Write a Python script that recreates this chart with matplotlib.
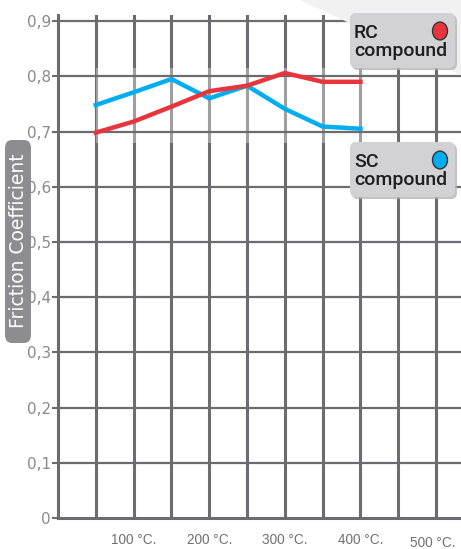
import matplotlib
matplotlib.use("Agg")
import matplotlib.pyplot as plt
from matplotlib.patches import FancyBboxPatch, Polygon, Rectangle, Circle
import matplotlib.transforms as mtransforms

# ---- data ----
temps = [50, 100, 150, 200, 250, 300, 350, 400]
rc_values = [0.698, 0.718, 0.745, 0.773, 0.783, 0.806, 0.790, 0.790]
sc_values = [0.748, 0.771, 0.795, 0.760, 0.783, 0.741, 0.709, 0.705]
x_tick_pos = [100, 200, 300, 400, 500]
x_tick_labels = ["100 °C.", "200 °C.", "300 °C.", "400 °C.", "500 °C."]
y_ticks = [0, 0.1, 0.2, 0.3, 0.4, 0.5, 0.6, 0.7, 0.8, 0.9]
y_tick_labels = ["0", "0,1", "0,2", "0,3", "0,4", "0,5", "0,6", "0,7", "0,8", "0,9"]
series_names = ["RC\ncompound", "SC\ncompound"]

RED = "#e8353d"
BLUE = "#00aeef"
GRID = "#6c6c70"

W, H = 461, 549
fig = plt.figure(figsize=(W / 100, H / 100), dpi=100)
fig.patch.set_facecolor("white")

def fx(px):
    return px / W

def fy(py):
    return 1 - py / H

# faint background wedge top right
fig.patches.append(Polygon([(fx(300), fy(0)), (fx(461), fy(0)), (fx(461), fy(75))],
                           closed=True, transform=fig.transFigure,
                           facecolor="#f1f1f2", edgecolor="none", zorder=0))

ax_left, ax_top, ax_bottom = 58, 15, 518
ax = fig.add_axes([fx(ax_left), fy(ax_bottom), 1 - fx(ax_left), (ax_bottom - ax_top) / H])
ax.set_facecolor("none")
ax.set_xlim(0, 533)
ax.set_ylim(0, 0.911)

for sp in ["top", "right"]:
    ax.spines[sp].set_visible(False)
ax.spines["left"].set_color(GRID)
ax.spines["left"].set_linewidth(2.2)
ax.spines["bottom"].set_color(GRID)
ax.spines["bottom"].set_linewidth(2.2)

# grid
for xv in range(50, 501, 50):
    ax.axvline(xv, color=GRID, lw=2.2, zorder=1)
for yv in y_ticks[1:]:
    ax.axhline(yv, color=GRID, lw=1.6, zorder=2.5)

# soft white veil behind the curves
ax.add_patch(Rectangle((50, 0.68), 352, 0.135, facecolor="white", alpha=0.35,
                       edgecolor="none", zorder=2))

ax.plot(temps, sc_values, color=BLUE, lw=3.2, zorder=3, solid_joinstyle="miter")
ax.plot(temps, rc_values, color=RED, lw=3.2, zorder=4, solid_joinstyle="miter")

ax.set_yticks(y_ticks)
ax.set_yticklabels(y_tick_labels)
ax.tick_params(axis="y", length=4, width=1.5, color=GRID, labelcolor="#8a8a8c",
               labelsize=11, pad=1)
ax.set_xticks([])

trans = mtransforms.blended_transform_factory(ax.transData, ax.transAxes)
for i, (xp, lab) in enumerate(zip(x_tick_pos, x_tick_labels)):
    last = i == len(x_tick_pos) - 1
    yoff = -0.049 if last else -0.043
    xpos = xp - 4 if last else xp
    ax.text(xpos, yoff, lab, transform=trans, ha="center", va="center",
            fontsize=9.8, color="#707072", family="Liberation Sans")

# y-axis label in rounded gray box
fig.patches.append(FancyBboxPatch((fx(5), fy(343)), fx(26), (343 - 140) / H,
                                  boxstyle="round,pad=0,rounding_size=0.015",
                                  transform=fig.transFigure, facecolor="#8d8d91",
                                  edgecolor="none", zorder=5))
fig.text(fx(18), fy(241), "Friction Coefficient", rotation=90, ha="center", va="center",
         color="white", fontsize=13.5, zorder=6)

# legend boxes
legend_tops = [13, 142]
colors = [RED, BLUE]
for top, name, col in zip(legend_tops, series_names, colors):
    bx, bw, bh = 350, 105, 55
    shadow = FancyBboxPatch((fx(bx + 2), fy(top + bh + 2)), fx(bw), bh / H,
                            boxstyle="round,pad=0,rounding_size=0.012",
                            transform=fig.transFigure, facecolor="#b5b5b8",
                            edgecolor="none", zorder=6, alpha=0.8)
    box = FancyBboxPatch((fx(bx), fy(top + bh)), fx(bw), bh / H,
                         boxstyle="round,pad=0,rounding_size=0.012",
                         transform=fig.transFigure, facecolor="#d2d2d4",
                         edgecolor="none", zorder=7)
    fig.patches.append(shadow)
    fig.patches.append(box)
    fig.text(fx(354), fy(top + 29), name, ha="left", va="center", fontsize=14,
             color="#1e1e1e", linespacing=1.05, zorder=8,
             family=["Roboto", "DejaVu Sans"], fontweight="medium")
    circ = Circle((fx(440), fy(top + 18)), radius=7.5 / W, transform=fig.transFigure,
                  facecolor=col, edgecolor="#333333", lw=1.0, zorder=8)
    fig.patches.append(circ)

fig.savefig("out.png", dpi=100)
